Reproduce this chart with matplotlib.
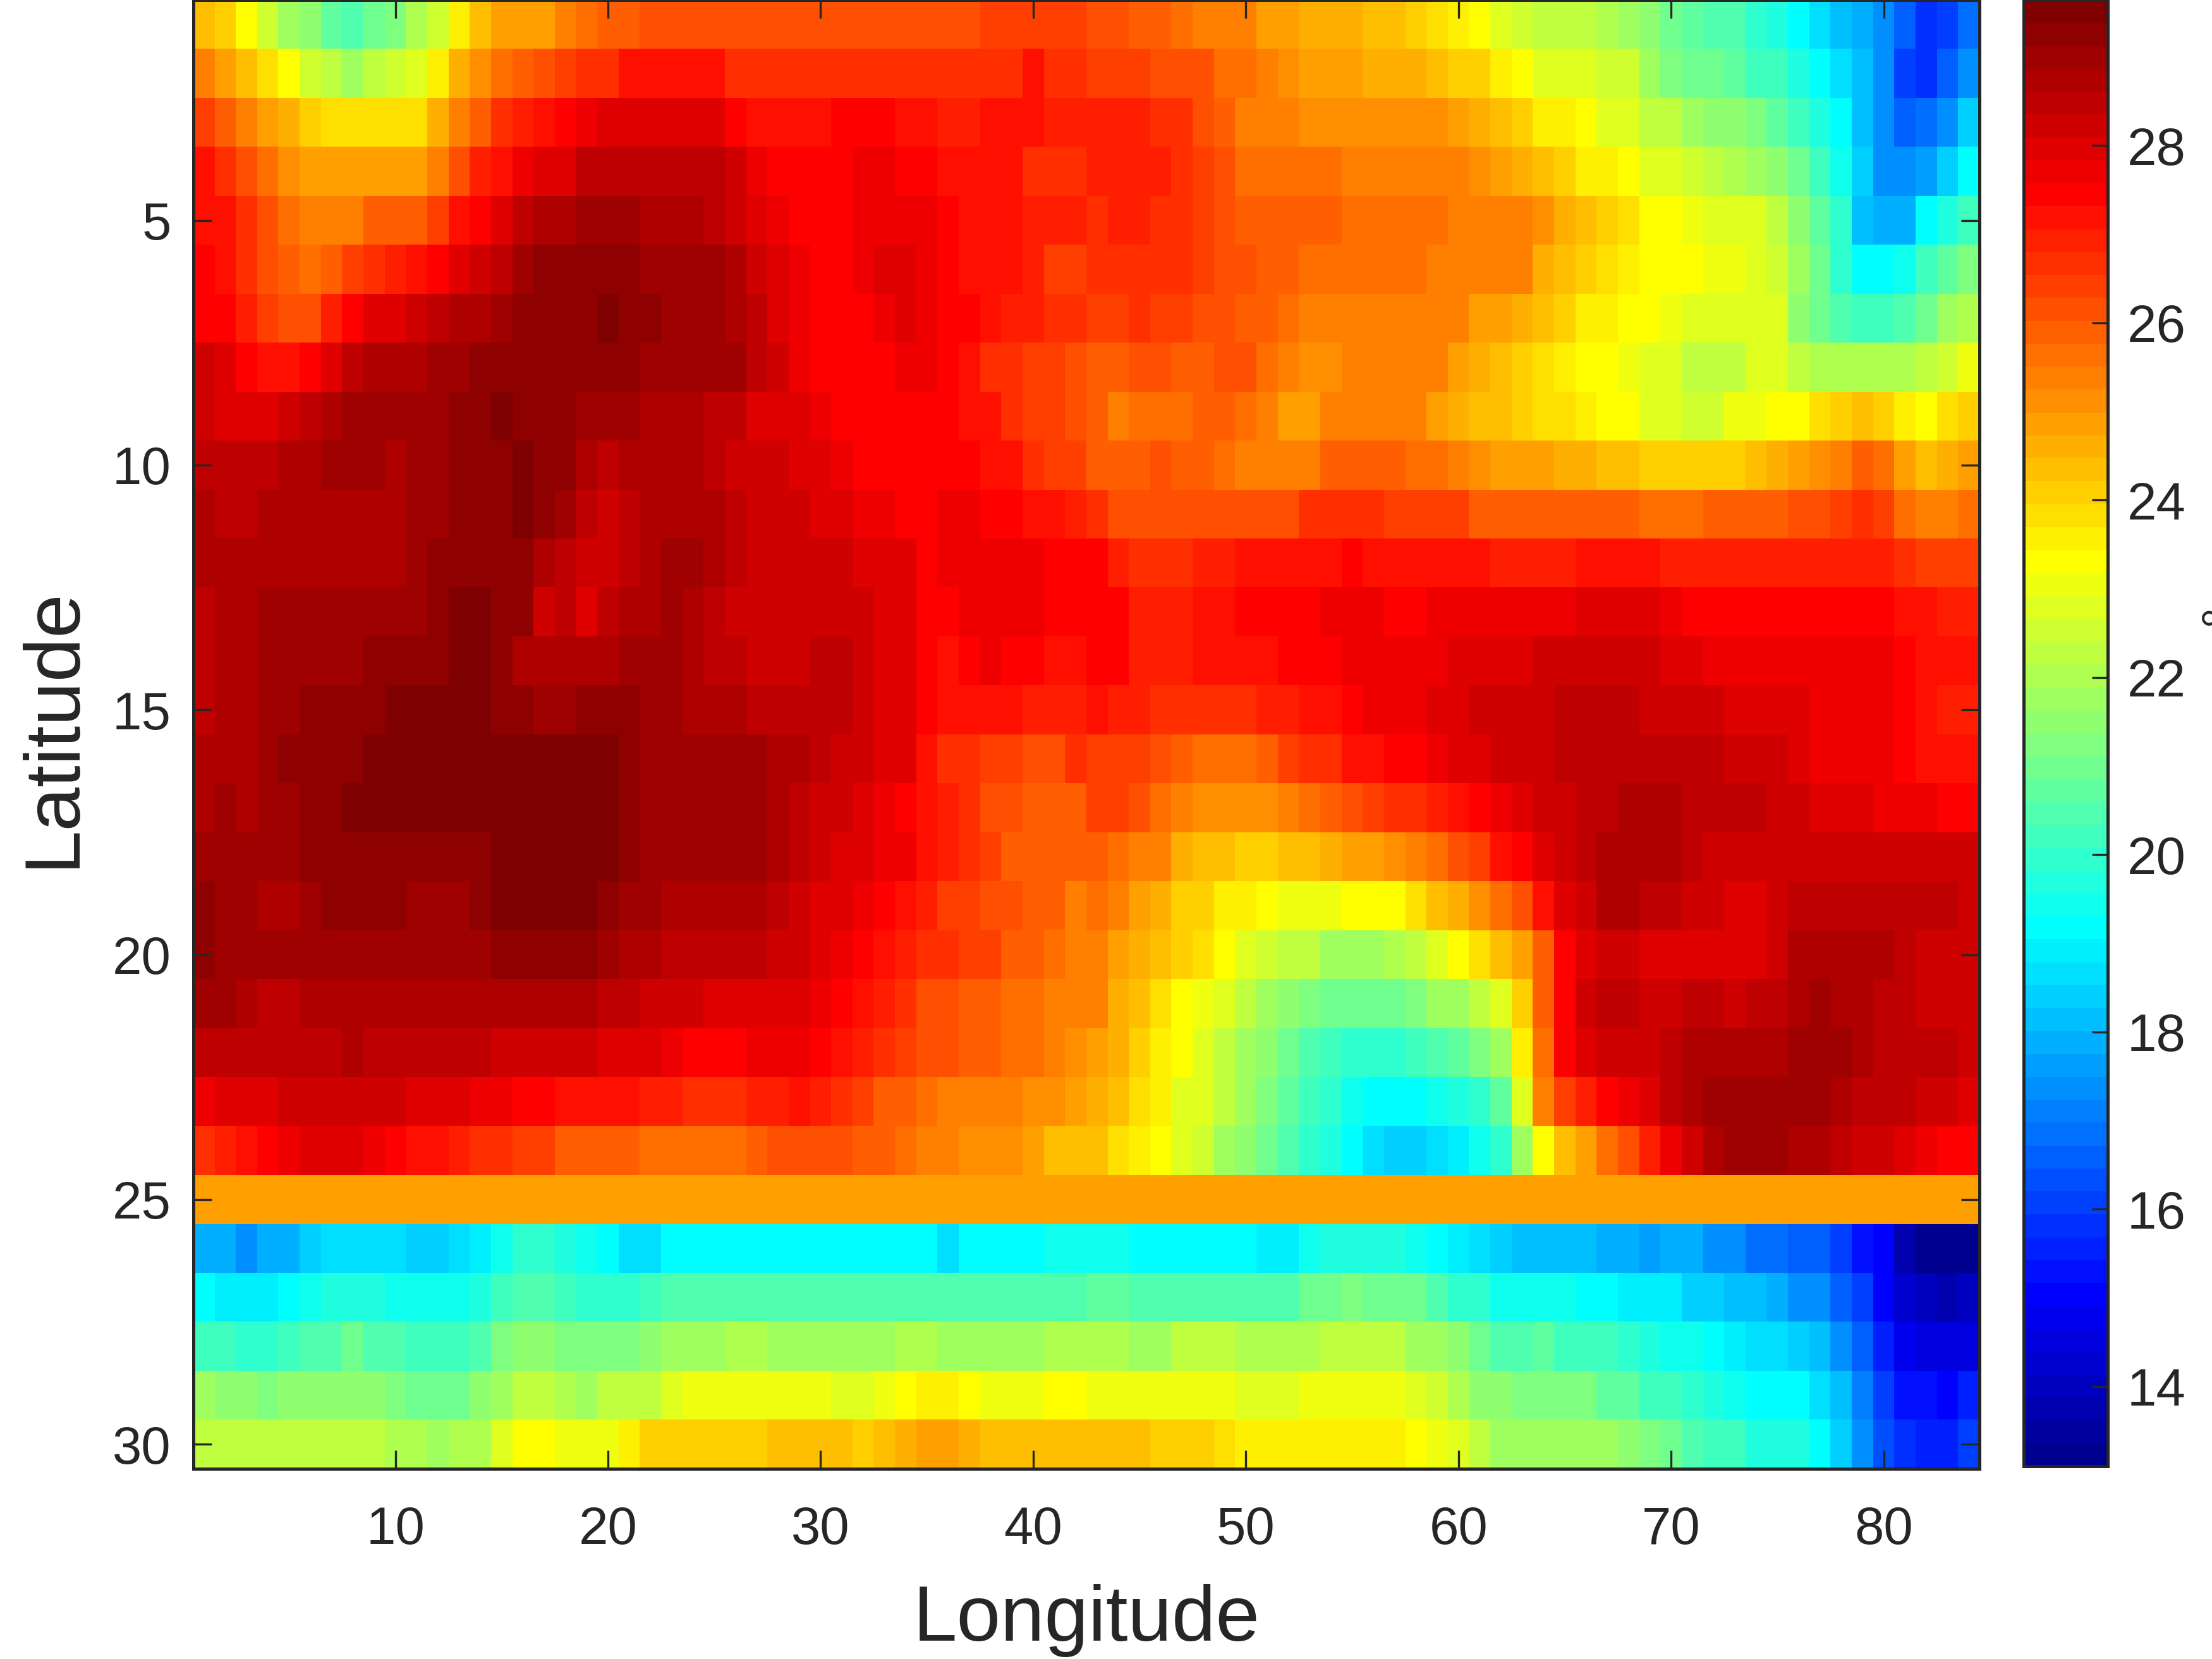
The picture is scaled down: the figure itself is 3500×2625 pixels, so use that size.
import numpy as np
import matplotlib
matplotlib.use("Agg")
import matplotlib.pyplot as plt
from matplotlib.colors import ListedColormap

plt.rcParams['font.family'] = ['Liberation Sans', 'DejaVu Sans']

lat01 = [24.5,24.1,23.4,22.6,22.0,21.5,20.9,20.7,21.2,21.4,22.1,22.6,23.7,24.5,24.9,25.1,25.1,25.5,25.8,26.1,26.1]+[26.3]*16+[26.6]*5 + [26.2,26.2,26.1,26.1,25.8,25.6,25.6,25.4,25.1,25.1,24.8,24.7,24.7,24.5,24.5,24.2,23.95,23.7,23.4,23.0,22.7,22.5,22.5,22.5,22.1,21.9,21.5,21.2,20.9,20.6,20.6,20.0,19.8,19.3,18.7,18.3,17.9,17.5,16.8,16.0,16.3,17.0]
lat02 = [25.4,25.0,24.5,23.95,23.4,22.7,22.4,22.0,22.3,22.7,22.9,23.7,24.7,25.3,25.8,26.1,26.3,26.6,26.9,26.9]+[27.2]*5+[26.9]*14+[27.2,26.9,26.9] + [26.6,26.6,26.6,26.4,26.4,26.3,25.7,25.7,25.5,25.3,25.0,25.0,25.0,24.7,24.8,24.7,24.5,24.2,24.1,23.7,23.4,23.0,22.9,22.9,22.7,22.7,22.0,21.4,21.2,21.2,20.9,20.3,20.3,19.8,19.3,18.7,18.2,17.4,16.3,16.0,16.7,17.5]
lat03 = [26.5,26.0,25.4,25.0,24.7,24.3]+[24.0]*5+[24.7,25.4,26.1,26.8,27.0,27.4,27.6,27.8]+[28.0]*5+[28.2,27.6]+[27.3]*4+[27.5]*3+[27.3]*2+[27.0]*2+[27.2]*3+[27.0]*2 + [27.0,27.0,27.0,26.8,26.8,26.2,26.0,25.6,25.6,25.45]+[25.3]*7+[25.0,24.7,24.6,24.1,23.7,23.7,23.4,23.0,22.8,22.5,22.3,21.8,21.6,21.5,21.3,20.9,20.3,19.8,19.3,18.3,17.4,16.6,17.0,17.5,18.4]
lat04 = [27.2,26.9,26.2,25.7,25.35]+[25.1]*4+[25.0,25.0,25.4,26.2,27.0,27.4,27.9,28.05,28.2]+[28.5]*6+[28.65,28.4,27.8]+[27.5]*4+[27.8]*2+[27.7]*2+[27.3]*4+[26.9]*3 + [27.0]*4+[26.8,26.5,26.2,25.7]+[25.8]*4+[25.6]*6+[25.35,25.0,24.8,24.6,24.3,23.8,23.8,23.4,23.0,22.8,22.7,22.3,22.1,22.0,21.6,21.0,20.3,19.5,18.4,17.4,17.4,17.75,18.4,19.3]
lat05 = [27.3,27.2,26.8,26.3,25.7,25.6,25.6,25.6,25.9,25.9,25.9,26.5,27.2,27.6,28.05,28.65,28.85,28.85,29.05,29.05,29.05,28.85,28.85,28.85,28.65,28.4,28.05,27.9,27.6,27.6,27.6]+[27.8]*4+[27.5,27.3,27.3,27.3,27.0,27.0,27.0] + [26.9,27.1,27.1,26.8,26.8,26.6,26.3]+[26.0]*5+[25.7]*5+[25.5]*4+[25.3,24.7,24.5,24.1,23.9,23.4,23.4,23.1,22.9,22.9,22.8,22.5,21.6,20.9,20.0,18.3,18.1,18.1,19.3,19.7,20.4]
lat06 = [27.6,27.4,26.8,26.3,26.0,25.7,26.1,26.5,26.8,27.1,27.3,27.6,28.1,28.3,28.6,29.1]+[29.3]*5+[29.05]*4+[28.9,28.3,28.05,27.9,27.6,27.6,27.8,28.05,28.05,27.8,27.6,27.3,27.3,27.3,27.0,26.6,26.6] + [26.8]*5+[26.6,26.3,26.3,25.9,25.9]+[25.7]*6+[25.6]*3+[25.4,25.4,24.8,24.6,24.3,24.0,23.7,23.4,23.4,23.4,23.1,23.1,23.0,22.7,22.0,21.2,20.0,19.3,19.3,19.5,20.3,20.9,21.4]
lat07 = [27.6,27.6,27.0,26.5,26.2,26.2,27.0,27.6,28.1,28.1,28.3,28.6,28.9,28.9,29.15]+[29.3]*4+[29.6,29.5,29.5,29.1,29.1,29.1,28.9,28.6,28.05,27.8,27.6,27.6,27.6,27.8,28.0,27.8,27.6,27.6,27.4,27.0,27.0,26.7,26.7] + [26.5,26.5,26.9,26.6,26.6,26.3,26.3,26.1,26.1,25.7]+[25.6]*6+[25.4,25.4,25.1,25.1,24.8,24.6,24.3,23.7,23.7,23.4,23.4,23.1]+[22.9]*5+[21.6,21.0,20.6,20.4,20.4,20.7,21.2,21.8,22.1]
lat08 = [28.3,28.05,27.6,27.3,27.3,27.6,28.2,28.65,28.9,28.9,28.9,29.1,29.1]+[29.3]*8+[29.1,29.1,29.0,29.0,29.0,28.65,28.3,27.8]+[27.6]*4+[27.8,27.8,27.6,27.4,26.9,26.9,26.6,26.6,26.3] + [26.0,26.0,26.4,26.4,26.0,26.0,26.2,26.2,25.8,25.5,25.35,25.35,25.6,25.6,25.6,25.4,25.4,25.0,24.7,24.5,24.3,23.95,23.7,23.4,23.4,23.1,23.0,22.8,22.5,22.5,22.5,22.8,22.8,22.5,22.1,22.1,22.1,22.1,22.1,22.4,22.7,23.2]
lat09 = [28.3,28.05,28.05,28.05,28.3,28.65,28.9]+[29.05]*5+[29.3,29.3,29.6,29.3,29.3,29.3,29.05,29.05,29.05,28.9,28.9,28.9,28.5,28.5,28.2,28.2,28.05,27.8]+[27.6]*6+[27.4,27.4,26.9,26.6,26.6,26.3] + [26.0,25.5,25.8,25.8,25.8,26.0,26.0,25.7,25.45,25.1,25.1]+[25.5]*5+[25.1,24.8,24.6,24.5,24.2,23.9,23.9,23.6,23.4,23.4,23.0,23.0,22.7,22.7,23.1,23.1,23.4,23.4,23.9,24.1,24.6,24.3,23.7,23.4,23.9,24.1]
lat10 = [28.5]*4+[28.9,28.9,29.05,29.05,29.05,28.9,29.05,29.05,29.3,29.3,29.3,29.55,29.3,29.3,28.9,28.5,28.9,28.9,28.9,28.9,28.5,28.3,28.3,28.3,28.1,28.1,27.8]+[27.6]*6+[27.2,27.2,26.9,26.6,26.6] + [26.0,26.0,26.0,26.3,26.0,26.0,25.7,25.6,25.6,25.6,25.6,26.0,26.0,26.0,26.0,25.7,25.7,25.5,25.3,25.0,25.0,25.0,24.7,24.7,24.5,24.5]+[24.2]*5+[24.5,24.7,25.0,25.3,25.5,26.0,25.7,25.0,24.5,24.7,25.0]
lat11 = [28.9,28.65,28.65]+[28.85]*7+[29.05,29.05,29.3,29.3,29.3,29.55,29.45,29.05,28.65,28.3,28.6,28.85,28.85,28.85,28.85,28.65,28.3,28.3,28.3,28.05,28.05,27.8,27.8,27.6,27.6,27.8,27.8,27.6,27.6,27.3,27.3,27.0] + [26.9]+[26.4]*9+[26.8]*4+[26.5]*4+[26.1]+[26.0]*7+[25.7]*3+[26.0]*4+[26.2,26.2,26.5,26.8,26.5,25.8,25.4,25.4,25.7]
lat12 = [28.85]*10+[29.05]+[29.3]*5+[28.95,28.7,28.3,28.3,28.6,28.9,29.1,29.1,28.9,28.6]+[28.3]*5+[28.05]*3+[27.6]+[27.8]*5+[27.6,27.6] + [27.5,27.0,26.8,26.8,26.8,27.0,27.0]+[27.3]*5+[27.6]+[27.3]*6+[27.0]*4+[27.3]*4+[27.0]*11+[26.8,26.5,26.5,26.5]
lat13 = [28.6,28.85,28.85]+[29.05]*8+[29.3,29.55,29.55,29.3,29.3,28.3,28.6,28.2,28.6,28.85,28.85,29.1,28.85,28.6]+[28.3]*7+[28.05,28.05,27.6,27.6,27.8,27.8,27.8,27.8,27.6,27.6] + [27.5,27.5,27.0,27.0,27.0,27.2,27.2]+[27.6]*4+[27.9]*3+[27.6,27.6]+[27.8]*7+[28.05]*4+[27.8]+[27.6]*10+[27.3,27.3,27.0,27.0]
lat14 = [28.6,28.85,28.85]+[29.05]*5+[29.3]*4+[29.55,29.55,29.3,28.9,28.85,28.85,28.85,28.85,29.05,29.05,29.05,28.85,28.6,28.6,28.3,28.3,28.3,28.6,28.6,28.3,28.05,28.05,27.6,27.3,27.6,27.8,27.6,27.6,27.3,27.3] + [27.5,27.5,27.0,27.0,27.0]+[27.2]*4+[27.6]*3+[27.8]*5+[28.05]*4+[28.3]*6+[28.05,28.05]+[27.8]*9+[27.6,27.3,27.3,27.3]
lat15 = [28.6,28.85,28.85,29.05,29.05]+[29.3]*4+[29.55]*5+[29.3,29.3,29.05,29.05,29.3,29.3,29.3,29.05,29.05,28.85,28.85,28.85]+[28.6]*5+[28.3,28.05,28.05,27.6]+[27.2]*4+[27.0]*3 + [27.3,27.1,27.1]+[26.8]*5+[27.1,27.1,27.3,27.3,27.6,27.8,27.8,27.8,28.05,28.05]+[28.3]*4+[28.6]*4+[28.3]*4+[28.05]*4+[27.8]*4+[27.6,27.3,27.0,27.0]
lat16 = [28.85,28.85,28.85,29.05]+[29.3]*4+[29.55]*12+[29.3]+[29.05]*6+[28.85,28.85,28.6,28.3,28.3,28.05,28.05,27.3,26.9,26.9,26.6,26.6,26.4,26.4,26.7] + [26.6,26.6,26.6,26.4,26.1,25.8,25.8,25.8,26.1,26.5,26.7,26.7,27.2,27.2,27.6,27.6,27.8,28.05,28.05,28.3,28.3,28.3]+[28.6]*8+[28.3]*3+[28.05]+[27.8]*4+[27.6,27.3,27.3,27.3]
lat17 = [28.85,29.05,28.85,29.05,29.05,29.3,29.3]+[29.55]*13+[29.3]+[29.05]*6+[28.85,28.6,28.3,28.3,28.05,27.8,27.6,27.3,27.0,26.8,26.4,26.4,26.1,26.1,26.1] + [26.5,26.5,26.3,25.7,25.4,25.3,25.3,25.3,25.3,25.5,25.7,26.0,26.2,26.5,26.7,26.7,27.0,27.3,27.6,27.8,28.0,28.3,28.3,28.6,28.6,28.85,28.85,28.85,28.6,28.6,28.6,28.6,28.3,28.3,28.05,28.05,28.05,27.8,27.8,27.8,27.6,27.6]
lat18 = [29.05]*5+[29.3]*9+[29.55]*6+[29.3]+[29.05]*6+[28.85,28.6,28.3,28.05,28.05,27.8,27.8,27.3,27.0,26.8,26.5,26.0,26.0,25.9,25.9] + [26.1,25.8,25.6,25.4,24.8,24.6,24.6,24.3,24.3,24.4,24.4,24.7,25.0,25.0,25.3,25.5,25.7,26.2,26.6,27.2,27.5,28.05,28.3,28.6,28.85,28.85,28.85,28.85,28.6]+[28.3]*10+[28.4,28.4,28.4]
lat19 = [29.3,29.05,29.05,28.9,28.9,29.05,29.3,29.3,29.3,29.3,29.05,29.05,29.05,29.3]+[29.55]*5+[29.3,29.1,29.1]+[28.85]*5+[28.6,28.3,28.05,28.05,27.8,27.6,27.4,27.0,26.6,26.6,26.3,26.3,26.0,26.0,25.6] + [25.7,25.4,25.1,24.8,24.3,24.1,23.8,23.8,23.4,23.1,23.1,23.1,23.4,23.4,23.4,23.9,24.5,24.7,25.3,25.7,26.2,27.2,28.05,28.3,28.85,28.85,28.6,28.6,28.3,28.3,28.15,28.15,28.3]+[28.6]*6+[28.5,28.5,28.3]
lat20 = [29.3,29.05,29.05,29.0,29.0,29.0]+[29.05]*8+[29.3]*5+[29.05,28.9,28.9]+[28.6]*5+[28.4,28.4,28.05,27.8,27.6,27.3,27.0,26.7,26.7,26.6,26.6,26.1,26.1,25.7,25.45] + [25.4,25.0,24.7,24.4,24.1,23.9,23.4,22.85,22.7,22.3,22.3,22.0,22.0,22.0,22.1,22.4,22.9,23.4,23.95,24.4,25.0,26.1,27.6,28.05,28.4,28.4]+[28.2]*6+[28.4]+[28.85]*5+[28.6,28.4,28.4,28.4]
lat21 = [29.05,29.05,28.85,28.6,28.6]+[28.85]*14+[28.6,28.6,28.3,28.3,28.3]+[28.05]*5+[27.8,27.6,27.3,27.0,26.8,26.4,26.4,26.1,26.1,25.8,25.8,25.6,25.4] + [25.4,24.7,24.5,24.0,23.4,23.1,22.8,22.4,22.0,21.6,21.3,21.0,21.0,21.0,21.0,21.3,21.8,22.0,22.4,22.85,24.2,26.0,27.6,28.3,28.6,28.6,28.3,28.3,28.6,28.6,28.4,28.65,28.65,28.85,29.1,28.85,28.85,28.6,28.6,28.4,28.4,28.4]
lat22 = [28.6]*4+[28.5,28.6,28.6,28.85]+[28.6]*6+[28.3]*5+[28.05]*3+[27.8,27.6,27.6,27.6,27.8,27.8,27.8,27.6,27.4,27.1,26.9,26.6,26.2,26.2,26.1,26.1,25.7,25.7,25.45,25.3] + [25.1,24.7,24.3,23.7,23.4,22.85,22.4,22.0,21.5,21.2,20.6,20.4,20.0,20.0,20.0,20.3,20.6,20.9,21.3,22.0,23.7,25.8,27.6,28.05,28.3,28.3,28.3,28.6]+[28.85]*5+[29.05]*3+[28.9]+[28.6]*4+[28.3]
lat23 = [27.8,28.05,28.05,28.05]+[28.3]*6+[28.05,28.05,28.05,27.8,27.8,27.6,27.6]+[27.3]*4+[27.0,27.0,26.9,26.9,26.9,27.0,27.0,27.4,27.0,26.8,26.6,26.1,26.1,25.8,25.6,25.6,25.45,25.45,25.3,25.3,25.0] + [24.8,24.5,24.0,23.7,23.0,22.85,22.4,21.8,21.4,20.9,20.3,20.2,19.5,19.3,19.3,19.3,19.5,19.8,20.0,20.9,22.85,25.5,26.5,27.0,27.5,27.9,28.05,28.6,28.85]+[29.05]*6+[28.85,28.65,28.5,28.5,28.3,28.3,28.0]
lat24 = [26.7,27.0,27.4,27.6,27.8,28.05,28.05,28.05,27.8,27.6,27.3,27.3,27.0,26.8,26.8,26.5,26.5,26.1,25.9,25.9,25.9]+[25.8]*5+[26.0]+[26.2]*4+[25.9,25.9,25.7,25.5,25.5,25.3,25.3,25.3,25.0,24.6,24.6] + [24.4,24.0,23.7,23.4,22.85,22.7,22.0,21.5,21.2,20.6,20.0,19.8,19.3,18.7,18.4,18.4,18.8,19.0,19.5,20.0,21.8,23.4,24.5,25.0,25.7,26.2,27.0,27.8,28.3,28.85,29.05,29.05,29.05,28.85,28.85,28.6,28.3,28.3,28.05,27.8,27.6,27.6]
lat25 = [25.0]*84
lat26 = [17.9,17.9,17.6,17.9,17.9,18.4,18.7,18.9,18.7,18.7,18.4,18.4,18.7,19.0,19.5,20.0,20.0,19.8,19.5,19.3,18.9,18.9]+[19.3]*13+[18.9]+[19.3]*4+[19.5,19.5] + [19.5,19.5,19.3,19.3,19.3,19.4,19.3,19.3,19.0,19.0,19.5,19.8,19.9,19.8,19.8,19.5,19.3,19.0,18.7,18.5,18.3,18.3,18.3,18.3,18.0,18.0,17.75,17.9,17.9,17.6,17.4,17.1,17.1,16.8,16.6,16.1,15.5,15.2,13.95,13.4,13.1,13.1]
lat27 = [19.3,19.0,19.0,19.0,19.3,19.5,19.8,19.8,19.8,19.5,19.5,19.5,19.5,19.8,20.3,20.6,20.6,20.4,20.1,20.1,20.1,20.3]+[20.6]*18+[20.7,20.7] + [20.9,20.9,20.6,20.6,20.6]+[20.7]*5+[21.0,21.2,21.3,21.2,21.0,21.0,20.6,20.0,20.0,19.5,19.5,19.5,19.5,19.3,19.3,19.0,19.0,19.0,18.5,18.4,18.2,18.2,17.9,17.6,17.4,16.8,16.2,15.2,14.4,14.1,13.9,14.1]
lat28 = [20.4,20.4,20.2,20.2,20.3,20.7,20.7,21.0,20.6,20.6,20.3,20.3,20.3,20.6,21.3,21.5,21.5,21.4,21.3,21.3,21.3,21.5,22.0,22.0,22.0,22.1,22.1]+[22.0]*6+[22.1,22.1]+[22.0]*5+[22.1,22.1] + [22.1,22.1,22.0,22.0,22.3,22.3,22.3,22.1,22.1,22.1,22.2,22.4,22.4,22.3,22.3,22.0,21.8,21.5,21.0,20.7,20.6,20.9,20.4,20.4,20.4,20.0,19.9,19.5,19.5,19.3,19.0,18.8,18.8,18.5,18.2,17.5,16.7,15.7,15.0,14.7,14.7,14.7]
lat29 = [21.9,21.5,21.5,21.3,21.5,21.5,21.6,21.6,21.6,21.4,21.2,21.2,21.2,21.5,22.0,22.3,22.3,22.1,22.0,22.3,22.4,22.3,22.85]+[23.1]*7+[22.85,22.85,23.1,23.4,23.7,23.7,23.4,23.1,23.1,23.1,23.4,23.4] + [23.1]*7+[22.9]*3+[23.1]*5+[22.85,22.7,22.1,21.6,21.5,21.4,21.3,21.3,21.3,20.9,20.9,20.3,20.3,20.2,19.8,19.6,19.3,19.3,19.3,18.8,18.3,17.2,16.2,15.5,15.5,15.2,15.7]
lat30 = [22.5,22.5]+[22.4]*7+[22.1,22.1,22.0,22.1,22.1,22.85,23.4,23.4,23.1,23.1,23.1,23.7,24.1]+[24.3]*5+[24.5]*4+[24.3,24.5,24.7,25.0,25.0,24.7]+[24.5]*5 + [24.4,24.4,24.4,24.2,24.2,24.2,23.95]+[23.7]*8+[23.4,23.1,22.85,22.4,22.0,22.0,21.8,21.8,21.8,21.8,21.5,21.3,21.0,20.6,20.3,20.3,19.8,19.8,19.8,19.3,18.4,17.6,16.4,16.0,15.7,15.7,16.2]

# The colours were read against a continuous scale; this centres them in the 64 colour steps.
READING_OFFSET = 0.13
temperature = np.array([lat01,lat02,lat03,lat04,lat05,lat06,lat07,lat08,lat09,lat10,
                        lat11,lat12,lat13,lat14,lat15,lat16,lat17,lat18,lat19,lat20,
                        lat21,lat22,lat23,lat24,lat25,lat26,lat27,lat28,lat29,lat30]) - READING_OFFSET
x_ticks = [10,20,30,40,50,60,70,80]
y_ticks = [5,10,15,20,25,30]
cbar_ticks = [14,16,18,20,22,24,26,28]
V_MIN, V_MAX = 13.1, 29.64


def matlab_jet(m=64):
    """The 64-level jet of MATLAB, whose yellow and red sit at other places than in matplotlib's."""
    n = m // 4
    u = np.r_[np.arange(1, n + 1) / n, np.ones(n - 1), np.arange(n, 0, -1) / n]
    g = n // 2 + np.arange(1, len(u) + 1) - 1
    r, b = g + n, g - n
    rgb = np.zeros((m, 3))
    for ch, idx in enumerate((r, g, b)):
        keep = (idx >= 0) & (idx < m)
        rgb[idx[keep], ch] = u[keep]
    return ListedColormap(rgb)


W, H = 3500, 2625
DARK = '#262626'
fig = plt.figure(figsize=(W/300, H/300), dpi=300)
ax = fig.add_axes([306/W, 1-2324/H, (3132-306)/W, 2324/H])
cmap = matlab_jet(64)
im = ax.imshow(temperature, cmap=cmap, vmin=V_MIN, vmax=V_MAX, aspect='auto',
               interpolation='nearest', extent=(0.5, 84.5, 30.5, 0.5))
ax.set_xticks(x_ticks)
ax.set_yticks(y_ticks)
ax.tick_params(axis='both', direction='in', length=7, width=0.8, top=True, right=True,
               labelsize=20, colors=DARK)
ax.tick_params(axis='x', pad=14)
ax.tick_params(axis='y', pad=8.4)
for s in ax.spines.values():
    s.set_linewidth(1.2)
    s.set_color(DARK)
    s.set_clip_on(False)

cax = fig.add_axes([3202/W, 1-2320/H, (3335-3202)/W, 2320/H])
cb = fig.colorbar(im, cax=cax)
cb.set_ticks(cbar_ticks)
cax.tick_params(axis='y', direction='in', length=6, width=0.8, labelsize=20, colors=DARK, pad=7.3)
cb.outline.set_linewidth(1.2)
cb.outline.set_edgecolor(DARK)

fig.text(1719/W, 1-2564/H, 'Longitude', fontsize=30, color=DARK, ha='center', va='center')
fig.text(85/W, 1-1151/H, 'Latitude', fontsize=30, color=DARK, ha='center', va='center', rotation=90)
fig.text(3516/W, 1-972/H, '\u00b0', fontsize=20, color=DARK, ha='center', va='center', rotation=90)

fig.savefig('out.png', dpi=300)
